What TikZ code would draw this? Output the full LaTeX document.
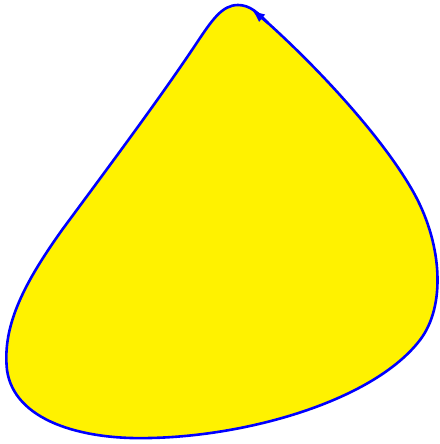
\documentclass[tikz,border=0pt]{standalone}
\usetikzlibrary{arrows.meta}
\begin{document}
\begin{tikzpicture}[x=1pt,y=-1pt,
  blob/.style={draw=blue,fill=yellow,line width=2.6pt,line join=round},
  tip/.style={draw=blue,line width=2.6pt,-{Latex[length=13pt,width=10pt]}}]
\useasboundingbox (0,0) rectangle (439,444);
\coordinate (top) at (238,5);
\coordinate (tipend) at (252,10);
\coordinate (tipstart) at (268,23);
\draw[blob] (top)
  .. controls (222,5) and (212,20) .. (196,44)
  .. controls (160,98) and (110,165) .. (62,230)
  .. controls (25,282) and (2,325) .. (7,370)
  .. controls (14,420) and (80,440) .. (150,438)
  .. controls (250,436) and (374,400) .. (420,340)
  .. controls (446,306) and (442,245) .. (415,195)
  .. controls (385,140) and (320,70) .. (268,23)
  .. controls (258,13) and (250,5) .. (top) -- cycle;
\draw[tip] (tipstart) -- (tipend);
\end{tikzpicture}
\end{document}
